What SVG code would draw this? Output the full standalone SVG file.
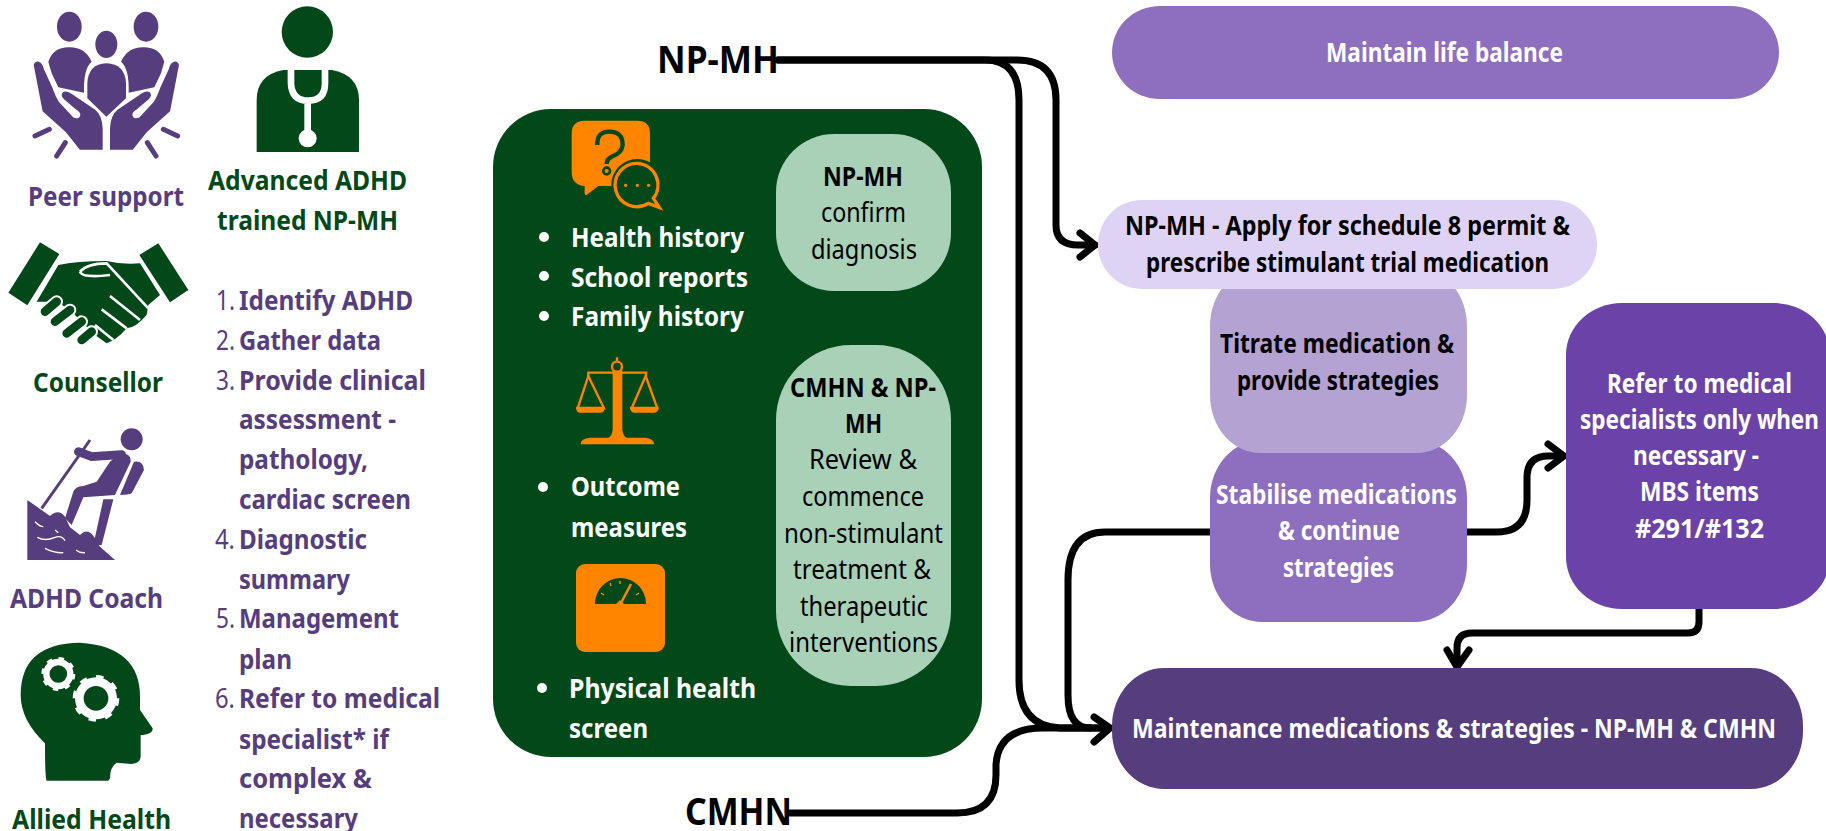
<svg xmlns="http://www.w3.org/2000/svg" width="1826" height="831" viewBox="0 0 1826 831">
<style>
text{font-family:"Noto Sans","Open Sans","Liberation Sans",sans-serif;font-size:26.5px;font-weight:400;transform:translateY(1px)}
.b{font-weight:700}
.pu{fill:#563d7e}.gr{fill:#034818}.wh{fill:#fff}.bk{fill:#000}
.or{fill:#ff8400}
.lg{font-size:38px}
.cn{fill:none;stroke:#000;stroke-width:7;stroke-linecap:round;stroke-linejoin:round}
</style>
<defs>
<path id="peerSide" d="M145 185Q160 140 210 142Q255 142 275 185Q250 205 252 278L175 262L155 220Z"/>
<path id="peerHand" d="M98 195Q102 180 116 182Q130 186 134 205L160 262Q170 290 180 305L222 350Q235 356 238 345Q238 338 228 332L190 300Q175 285 188 273Q200 268 215 278L285 325Q310 345 311 385V452H238L195 398L125 335Z"/>
</defs>

<g id="connectors">
<path class="cn" d="M778 60H985Q1019 60 1019 100V680Q1019 726 1060 728H1108"/>
<path class="cn" d="M778 60H1017Q1056 60 1056 100V225Q1056 245 1078 245H1095"/>
<path class="cn" d="M1080 233L1095 245L1080 257"/>
<path class="cn" d="M790 813H957Q996 813 996 775V765Q998 728 1043 728H1108"/>
<path class="cn" d="M1094 717L1110 728L1094 742"/>
<path class="cn" d="M1210 532H1105Q1068 532 1068 580V695Q1068 728 1090 728"/>
<path class="cn" d="M1467 532H1497Q1527 532 1527 500V478Q1527 456 1548 456H1562"/>
<path class="cn" d="M1548 444L1564 456L1548 468"/>
<path class="cn" d="M1699 609V622Q1699 633 1688 633H1472Q1457 633 1457 648V665"/>
<path class="cn" d="M1447 650L1457 667L1469 650"/>
</g>

<g id="peer-support">
<g fill="#563d7e" transform="scale(.33333)">
<ellipse cx="208" cy="80" rx="37" ry="45"/><ellipse cx="438" cy="80" rx="37" ry="45"/><ellipse cx="319" cy="133" rx="33" ry="41"/>
<use href="#peerSide"/><use href="#peerSide" transform="translate(638) scale(-1 1)"/>
<path d="M262 295V250Q265 192 319 190Q375 192 378 250V295L319 350Z"/>
<use href="#peerHand" stroke="#fff" stroke-width="6"/><use href="#peerHand" stroke="#fff" stroke-width="6" transform="translate(638) scale(-1 1)"/>
<path d="M105 408L148 388M170 468L196 428M533 408L490 388M468 468L442 428" stroke="#563d7e" stroke-width="15" stroke-linecap="round"/>
</g>
<text class="b pu" x="28" y="205" textLength="156" lengthAdjust="spacingAndGlyphs">Peer support</text>
</g>

<g id="np-mh-trained">
<g fill="#034818" transform="scale(.33333)">
<circle cx="922" cy="96" r="77"/>
<path d="M770 456V300Q770 225 850 210H995Q1077 225 1077 300V456Z"/>
<path d="M873 208V250Q875 302 925 302Q975 302 975 250V208M923 302V410" fill="none" stroke="#fff" stroke-width="20"/>
<circle cx="923" cy="415" r="27" fill="#fff"/>
</g>
<text class="b gr" x="208" y="189" textLength="199" lengthAdjust="spacingAndGlyphs">Advanced ADHD</text>
<text class="b gr" x="217" y="229" textLength="181" lengthAdjust="spacingAndGlyphs">trained NP-MH</text>
</g>

<g id="counsellor">
<g fill="#034818" transform="scale(.33333)">
<path d="M120 727L178 762L82 916L25 878ZM475 730L418 765L510 907L565 870Z"/>
<path d="M175 795Q230 783 320 783Q370 795 420 790L480 885L445 915L440 945Q405 985 380 985Q350 1020 320 1030L285 1005L210 930L170 905L110 905Z"/>
<path d="M240 815Q262 790 320 790L445 925M330 888L420 960M305 928L380 985M285 975L340 1020M240 815Q245 835 330 825" fill="none" stroke="#fff" stroke-width="8"/>
<path d="M135 935L170 905M165 965L210 930M200 1000L245 965M245 1020L275 995" fill="none" stroke="#fff" stroke-width="38" stroke-linecap="round"/>
<path d="M135 935L170 905M165 965L210 930M200 1000L245 965M245 1020L275 995" fill="none" stroke="#034818" stroke-width="26" stroke-linecap="round"/>
</g>
<text class="b gr" x="33" y="391" textLength="130" lengthAdjust="spacingAndGlyphs">Counsellor</text>
</g>

<g id="adhd-coach">
<g fill="#563d7e" transform="translate(0 410) scale(.33333)">
<circle cx="395" cy="88" r="33"/>
<path d="M270 90L125 295" stroke="#563d7e" stroke-width="9"/>
<path d="M235 125L275 140L365 134" fill="none" stroke="#563d7e" stroke-width="26" stroke-linecap="round"/>
<path d="M360 130Q395 130 392 155L345 255L250 262L215 345L195 325L220 245Q225 230 250 228L290 215L330 155Z"/>
<path d="M310 268H340L305 405H280Z"/>
<path d="M402 155Q430 150 432 180L395 250Q385 255 360 255Z"/>
<path d="M82 270L150 318Q175 295 195 320L210 352L240 375Q265 350 285 385L300 410L345 450H82Z"/>
<path d="M105 335Q120 350 130 350M112 382Q135 395 165 382Q185 375 195 392M135 415Q165 430 190 428M228 420Q240 430 255 428M165 360L175 368" fill="none" stroke="#fff" stroke-width="4"/>
</g>
<text class="b pu" x="10" y="607" textLength="153" lengthAdjust="spacingAndGlyphs">ADHD Coach</text>
</g>

<g id="allied-health">
<g transform="translate(0 410) scale(.33333)">
<path fill="#034818" d="M62 855Q62 700 240 698Q420 710 420 860V900L458 955Q460 970 430 975H422V1040Q420 1060 395 1062L350 1058Q330 1070 330 1105L325 1112H140Q135 1105 135 1000Q62 930 62 855Z"/>
<circle cx="175" cy="792" r="36" fill="none" stroke="#fff" stroke-width="19"/>
<circle cx="175" cy="792" r="46" fill="none" stroke="#fff" stroke-width="10" stroke-dasharray="16 20"/>
<circle cx="288" cy="865" r="50" fill="none" stroke="#fff" stroke-width="26"/>
<circle cx="288" cy="865" r="64" fill="none" stroke="#fff" stroke-width="12" stroke-dasharray="22 28"/>
</g>
<text class="b gr" x="12" y="828" textLength="159" lengthAdjust="spacingAndGlyphs">Allied Health</text>
</g>

<g id="role-list">
<text class="pu" x="216" y="309" textLength="19" lengthAdjust="spacingAndGlyphs">1.</text>
<text class="b pu" x="239" y="309" textLength="174" lengthAdjust="spacingAndGlyphs">Identify ADHD</text>
<text class="pu" x="216" y="349" textLength="19" lengthAdjust="spacingAndGlyphs">2.</text>
<text class="b pu" x="239" y="349" textLength="142" lengthAdjust="spacingAndGlyphs">Gather data</text>
<text class="pu" x="216" y="389" textLength="19" lengthAdjust="spacingAndGlyphs">3.</text>
<text class="b pu" x="239" y="389" textLength="187" lengthAdjust="spacingAndGlyphs">Provide clinical</text>
<text class="b pu" x="239" y="428" textLength="157" lengthAdjust="spacingAndGlyphs">assessment -</text>
<text class="b pu" x="239" y="468" textLength="129" lengthAdjust="spacingAndGlyphs">pathology,</text>
<text class="b pu" x="239" y="508" textLength="172" lengthAdjust="spacingAndGlyphs">cardiac screen</text>
<text class="pu" x="215" y="548" textLength="20" lengthAdjust="spacingAndGlyphs">4.</text>
<text class="b pu" x="239" y="548" textLength="128" lengthAdjust="spacingAndGlyphs">Diagnostic</text>
<text class="b pu" x="239" y="588" textLength="111" lengthAdjust="spacingAndGlyphs">summary</text>
<text class="pu" x="216" y="627" textLength="19" lengthAdjust="spacingAndGlyphs">5.</text>
<text class="b pu" x="239" y="627" textLength="160" lengthAdjust="spacingAndGlyphs">Management</text>
<text class="b pu" x="239" y="668" textLength="53" lengthAdjust="spacingAndGlyphs">plan</text>
<text class="pu" x="215" y="707" textLength="20" lengthAdjust="spacingAndGlyphs">6.</text>
<text class="b pu" x="239" y="707" textLength="201" lengthAdjust="spacingAndGlyphs">Refer to medical</text>
<text class="b pu" x="239" y="748" textLength="150" lengthAdjust="spacingAndGlyphs">specialist* if</text>
<text class="b pu" x="239" y="787" textLength="133" lengthAdjust="spacingAndGlyphs">complex &amp;</text>
<text class="b pu" x="239" y="827" textLength="119" lengthAdjust="spacingAndGlyphs">necessary</text>
</g>

<g id="assessment-panel">
<rect x="493" y="109" width="489" height="648" rx="58" fill="#034818"/>
<g id="icon-chat" transform="translate(480 90) scale(.33333)">
<path class="or" d="M275 130Q275 92 315 92H472Q510 92 510 130V240L400 288H355L320 315Q312 318 314 300V288Q275 285 275 245Z"/>
<path d="M352 165Q350 125 388 125Q428 125 428 165Q425 190 395 200Q380 207 380 222" fill="none" stroke="#034818" stroke-width="13"/>
<circle cx="380" cy="243" r="10" fill="none" stroke="#034818" stroke-width="8"/>
<circle cx="472" cy="285" r="78" fill="#034818"/>
<path d="M472 220A65 65 0 1 0 505 340L538 352L520 325A65 65 0 0 0 472 220Z" fill="#034818" stroke="#ff8400" stroke-width="10"/>
<circle class="or" cx="437" cy="286" r="5"/><circle class="or" cx="472" cy="286" r="5"/><circle class="or" cx="506" cy="286" r="5"/>
</g>
<g id="icon-balance" transform="translate(480 90) scale(.33333)">
<path class="or" d="M398 840H427V1020Q430 1040 440 1043H495Q522 1045 522 1063H302Q302 1045 330 1043H385Q395 1040 398 1020Z"/>
<path d="M322 848H502M411 802V830M325 845V862M498 845V862" fill="none" stroke="#ff8400" stroke-width="7"/>
<circle cx="411" cy="830" r="15" fill="#034818" stroke="#ff8400" stroke-width="7"/>
<path d="M325 858L293 955H372ZM497 858L455 955H532Z" fill="none" stroke="#ff8400" stroke-width="7"/>
<path class="or" d="M288 950H375Q375 968 360 968H300Q288 968 288 950ZM450 950H536Q536 968 521 968H465Q450 968 450 950Z"/>
</g>
<g id="icon-weighing">
<rect class="or" x="576" y="564" width="89" height="88" rx="9"/>
<path fill="#034818" d="M595 604A25.5 26 0 0 1 646 604H624L620 600L616 604Z"/>
<path d="M621 603L631 584" stroke="#ff8400" stroke-width="2.5"/>
<path d="M601 593L604 595M610 583L611 586M620 581V584M639 593L636 595" stroke="#ff8400" stroke-width="1.5"/>
</g>
<g id="panel-list" class="wh">
<circle cx="544" cy="237" r="5"/><circle cx="544" cy="276" r="5"/><circle cx="544" cy="316" r="5"/>
<circle cx="543" cy="487" r="5"/><circle cx="542" cy="688" r="5"/>
<text class="b wh" x="571" y="246" textLength="173" lengthAdjust="spacingAndGlyphs">Health history</text>
<text class="b wh" x="571" y="286" textLength="177" lengthAdjust="spacingAndGlyphs">School reports</text>
<text class="b wh" x="571" y="325" textLength="173" lengthAdjust="spacingAndGlyphs">Family history</text>
<text class="b wh" x="571" y="495" textLength="109" lengthAdjust="spacingAndGlyphs">Outcome</text>
<text class="b wh" x="571" y="536" textLength="116" lengthAdjust="spacingAndGlyphs">measures</text>
<text class="b wh" x="569" y="697" textLength="187" lengthAdjust="spacingAndGlyphs">Physical health</text>
<text class="b wh" x="569" y="737" textLength="79" lengthAdjust="spacingAndGlyphs">screen</text>
</g>
</g>

<g id="np-mh-confirm">
<rect x="776" y="134" width="175" height="157" rx="58" fill="#a8d1b8"/>
<text class="b bk" x="823" y="185" textLength="80" lengthAdjust="spacingAndGlyphs">NP-MH</text>
<text class="bk" x="821" y="221" textLength="85" lengthAdjust="spacingAndGlyphs">confirm</text>
<text class="bk" x="811" y="258" textLength="106" lengthAdjust="spacingAndGlyphs">diagnosis</text>
</g>

<g id="cmhn-review">
<rect x="776" y="345" width="175" height="341" rx="75" fill="#a8d1b8"/>
<text class="b bk" x="790" y="396" textLength="146" lengthAdjust="spacingAndGlyphs">CMHN &amp; NP-</text>
<text class="b bk" x="845" y="432" textLength="37" lengthAdjust="spacingAndGlyphs">MH</text>
<text class="bk" x="809" y="468" textLength="108" lengthAdjust="spacingAndGlyphs">Review &amp;</text>
<text class="bk" x="802" y="505" textLength="122" lengthAdjust="spacingAndGlyphs">commence</text>
<text class="bk" x="784" y="542" textLength="159" lengthAdjust="spacingAndGlyphs">non-stimulant</text>
<text class="bk" x="793" y="578" textLength="138" lengthAdjust="spacingAndGlyphs">treatment &amp;</text>
<text class="bk" x="800" y="615" textLength="128" lengthAdjust="spacingAndGlyphs">therapeutic</text>
<text class="bk" x="789" y="651" textLength="149" lengthAdjust="spacingAndGlyphs">interventions</text>
</g>

<g id="label-np-mh"><text class="b bk lg" x="657" y="72" textLength="122" lengthAdjust="spacingAndGlyphs">NP-MH</text></g>
<g id="label-cmhn"><text class="b bk lg" x="685" y="824" textLength="107" lengthAdjust="spacingAndGlyphs">CMHN</text></g>

<g id="maintain-life-balance">
<rect x="1112" y="6" width="667" height="93" rx="48" fill="#8e6fbf"/>
<text class="b wh" x="1326" y="61" textLength="237" lengthAdjust="spacingAndGlyphs">Maintain life balance</text>
</g>

<g id="stabilise">
<rect x="1210" y="440" width="257" height="182" rx="52" ry="58" fill="#8e6fbf"/>
<text class="b wh" x="1216" y="503" textLength="241" lengthAdjust="spacingAndGlyphs">Stabilise medications</text>
<text class="b wh" x="1278" y="539" textLength="122" lengthAdjust="spacingAndGlyphs">&amp; continue</text>
<text class="b wh" x="1283" y="576" textLength="111" lengthAdjust="spacingAndGlyphs">strategies</text>
</g>

<g id="titrate">
<rect x="1210" y="268" width="257" height="185" rx="50" ry="58" fill="#b4a2d2"/>
<text class="b bk" x="1220" y="352" textLength="234" lengthAdjust="spacingAndGlyphs">Titrate medication &amp;</text>
<text class="b bk" x="1237" y="389" textLength="202" lengthAdjust="spacingAndGlyphs">provide strategies</text>
</g>

<g id="apply-permit">
<rect x="1098" y="200" width="499" height="89" rx="44" fill="#dfd3f5"/>
<text class="b bk" x="1125" y="234" textLength="445" lengthAdjust="spacingAndGlyphs">NP-MH - Apply for schedule 8 permit &amp;</text>
<text class="b bk" x="1146" y="271" textLength="403" lengthAdjust="spacingAndGlyphs">prescribe stimulant trial medication</text>
</g>

<g id="refer-specialists">
<rect x="1566" y="303" width="264" height="306" rx="56" ry="52" fill="#6b42a8"/>
<text class="b wh" x="1607" y="392" textLength="185" lengthAdjust="spacingAndGlyphs">Refer to medical</text>
<text class="b wh" x="1580" y="428" textLength="239" lengthAdjust="spacingAndGlyphs">specialists only when</text>
<text class="b wh" x="1633" y="464" textLength="126" lengthAdjust="spacingAndGlyphs">necessary -</text>
<text class="b wh" x="1640" y="500" textLength="119" lengthAdjust="spacingAndGlyphs">MBS items</text>
<text class="b wh" x="1635" y="537" textLength="129" lengthAdjust="spacingAndGlyphs">#291/#132</text>
</g>

<g id="maintenance">
<rect x="1112" y="668" width="691" height="121" rx="52" ry="58" fill="#563d7e"/>
<text class="b wh" x="1132" y="737" textLength="644" lengthAdjust="spacingAndGlyphs">Maintenance medications &amp; strategies - NP-MH &amp; CMHN</text>
</g>
</svg>
